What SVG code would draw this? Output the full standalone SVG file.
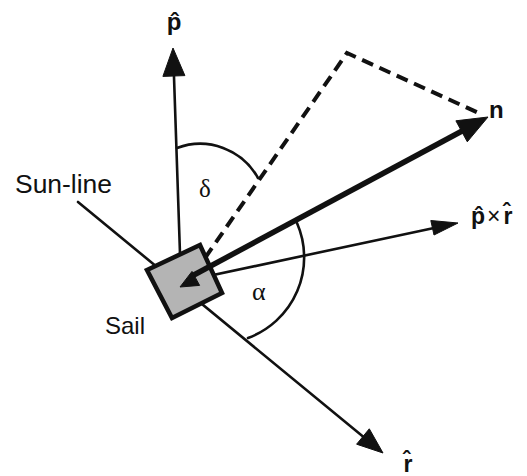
<svg xmlns="http://www.w3.org/2000/svg" width="527" height="476" viewBox="0 0 527 476">
<style>
.thin{stroke:#111;stroke-width:2.6;fill:none;stroke-linecap:round}
.thick{stroke:#111;stroke-width:5.5;fill:none}
.dash{stroke:#111;stroke-width:4;fill:none;stroke-dasharray:12 7}
.head{fill:#111;stroke:#111;stroke-width:1;stroke-linejoin:round}
.lbl{font-family:"Liberation Sans",Arial,sans-serif;fill:#111}
.vec{font-family:"Liberation Sans",Arial,sans-serif;font-weight:bold;fill:#111}
.greek{font-family:"Liberation Serif","Times New Roman",serif;fill:#111}
</style>
<rect width="527" height="476" fill="#fff"/>
<g id="connectors">
  <line class="thin" x1="181" y1="283" x2="173.9" y2="74"/>
  <polygon class="head" points="173,48 184.9,75.6 162.9,76.4"/>
  <line class="thin" x1="78" y1="202" x2="366" y2="439"/>
  <polygon class="head" points="383,453 356.6,444.2 369.3,428.8"/>
  <line class="thin" x1="185" y1="281" x2="434" y2="228"/>
  <polygon class="head" points="458,223 434,235 430.8,220.5"/>
</g>
<g id="sail">
  <polygon points="147,270 200,245 222,293 172,318" fill="#b4b4b4" stroke="#111" stroke-width="4.5" stroke-linejoin="miter"/>
</g>
<g id="connectors-front">
  <line class="thick" x1="192" y1="276" x2="463" y2="130.5"/>
  <polygon class="head" points="488,117 467.3,141.8 455.9,120.8"/>
  <polygon class="head" points="180,287 199.6,285.4 192,271.4"/>
  <polyline class="dash" points="205,258 347,53 483,115"/>
  <path class="thin" d="M177,148 A66,66 0 0 1 258,178"/>
  <path class="thin" d="M297,223 A86,86 0 0 1 248,338"/>
</g>
<g id="label-p">
  <text class="vec" x="174" y="30" font-size="24" text-anchor="middle">p̂</text>
</g>
<g id="label-n">
  <text class="vec" x="489" y="118" font-size="24">n</text>
</g>
<g id="label-pxr">
  <text class="vec" x="471" y="224" font-size="23">p̂<tspan font-weight="normal" font-size="23" dx="2">×</tspan><tspan dx="3">r̂</tspan></text>
</g>
<g id="label-r">
  <text class="vec" x="408" y="472" font-size="23" text-anchor="middle">r̂</text>
</g>
<g id="label-sunline">
  <text class="lbl" x="15" y="193" font-size="25" textLength="97" lengthAdjust="spacingAndGlyphs">Sun-line</text>
</g>
<g id="label-sail">
  <text class="lbl" x="105" y="334" font-size="24">Sail</text>
</g>
<g id="label-delta">
  <text class="greek" x="199" y="197" font-size="25">δ</text>
</g>
<g id="label-alpha">
  <text class="greek" x="252" y="300" font-size="26">α</text>
</g>
</svg>
